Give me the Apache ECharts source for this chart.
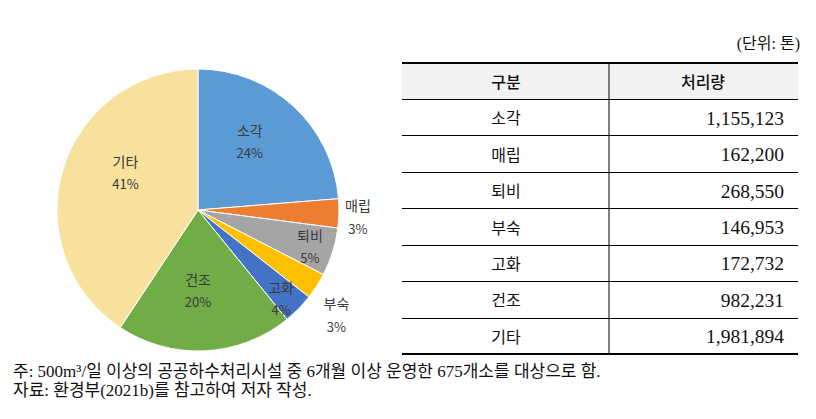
<!DOCTYPE html>
<html><head><meta charset="utf-8">
<script src="https://cdn.jsdelivr.net/npm/echarts@6/dist/echarts.min.js"></script>
<style>html,body{margin:0;padding:0;background:#fff}#c{width:816px;height:419px}</style>
</head><body><div id="c"></div>
<script>
// ---- data ----
const categories = ['소각','매립','퇴비','부숙','고화','건조','기타'];
const values = [1155123, 162200, 268550, 146953, 172732, 982231, 1981894];
const pctLabels = ['24%','3%','5%','3%','4%','20%','41%'];
const tableHeader = ['구분','처리량'];
const unitText = '(단위: 톤)';
const noteLines = ['주: 500m³/일 이상의 공공하수처리시설 중 6개월 이상 운영한 675개소를 대상으로 함.',
                   '자료: 환경부(2021b)를 참고하여 저자 작성.'];

// ---- styles / layout ----
const colors = ['#5B9BD5','#ED7D31','#A5A5A5','#FFC000','#4472C4','#70AD47','#F7E19C'];
const labelRadius = [0.61, 1.135, 0.835, 1.23, 0.86, 0.57, 0.58];
const labelShift = [-5.7, 1.1, 0.7, 4.4, 2.3, 2.8, 10.8];
const CX = 198, CY = 210, R = 141;
const KFONT = '"Noto Sans CJK KR", "Noto Sans", sans-serif';
const SFONT = '"Liberation Serif", "Noto Sans CJK KR", serif';

const total = values.reduce((a,b)=>a+b,0);
const mids = [];
let acc = 0;
values.forEach(v => { mids.push((acc + v/2)/total*360); acc += v; });

const chart = echarts.init(document.getElementById('c'), null, {renderer:'svg'});

// table graphics
const TX0 = 402, TX1 = 798, TDIV = 609, TTOP = 63, HEAD = 36, TBOT = 354;
const rowH = (TBOT - TTOP - HEAD) / categories.length;
const g = [];
g.push({type:'rect', shape:{x:TX0, y:TTOP, width:TX1-TX0, height:HEAD}, style:{fill:'#F2F2F2'}});
g.push({type:'line', shape:{x1:TX0, y1:TTOP, x2:TX1, y2:TTOP}, style:{stroke:'#000', lineWidth:2.2}});
g.push({type:'line', shape:{x1:TX0, y1:TBOT, x2:TX1, y2:TBOT}, style:{stroke:'#000', lineWidth:2.2}});
g.push({type:'line', shape:{x1:TDIV, y1:TTOP, x2:TDIV, y2:TBOT}, style:{stroke:'#000', lineWidth:1}});
for (let i = 0; i < categories.length; i++) {
  const y = Math.round(TTOP + HEAD + i*rowH) + 0.5;
  g.push({type:'line', shape:{x1:TX0, y1:y, x2:TX1, y2:y}, style:{stroke:'#000', lineWidth:1}});
}
g.push({type:'text', x:506, y:TTOP+HEAD/2, style:{text:tableHeader[0], font:'500 16px '+KFONT, fill:'#111', align:'center', verticalAlign:'middle'}});
g.push({type:'text', x:703, y:TTOP+HEAD/2, style:{text:tableHeader[1], font:'500 16px '+KFONT, fill:'#111', align:'center', verticalAlign:'middle'}});
categories.forEach((c, i) => {
  const yc = TTOP + HEAD + (i+0.5)*rowH;
  g.push({type:'text', x:506, y:yc, style:{text:c, font:'16px '+KFONT, fill:'#111', align:'center', verticalAlign:'middle'}});
  g.push({type:'text', x:784, y:yc+1, style:{text:values[i].toLocaleString('en-US'), font:'19.5px '+SFONT, fill:'#111', align:'right', verticalAlign:'middle'}});
});
g.push({type:'text', x:800, y:43, style:{text:unitText, font:'16px '+SFONT, fill:'#111', align:'right', verticalAlign:'middle'}});
noteLines.forEach((t, i) => {
  g.push({type:'text', x:13, y:371 + i*19, style:{text:t, font:'17px '+SFONT, fill:'#111', align:'left', verticalAlign:'middle'}});
});

chart.setOption({
  animation:false,
  color: colors,
  graphic: g,
  series:[{
    type:'pie',
    center:[CX, CY],
    radius:[0, R],
    startAngle:90,
    clockwise:true,
    avoidLabelOverlap:false,
    itemStyle:{borderColor:'#fff', borderWidth:1},
    label:{
      show:true, position:'inside',
      formatter: p => '{n|' + p.name + '}\n{p|' + pctLabels[p.dataIndex] + '}',
      rich:{
        n:{fontFamily:KFONT, fontSize:14, color:'#3a3a3a', lineHeight:23, align:'center'},
        p:{fontFamily:KFONT, fontSize:13, color:'#3a3a3a', lineHeight:23, align:'center'}
      }
    },
    labelLine:{show:false},
    labelLayout: function(params){
      const i = params.dataIndex;
      const a = (mids[i] + labelShift[i]) * Math.PI/180;
      const r = labelRadius[i]*R;
      return {x: CX + r*Math.sin(a), y: CY - r*Math.cos(a), align:'center', verticalAlign:'middle'};
    },
    data: categories.map((c,i)=>({name:c, value:values[i]}))
  }]
});
</script></body></html>
